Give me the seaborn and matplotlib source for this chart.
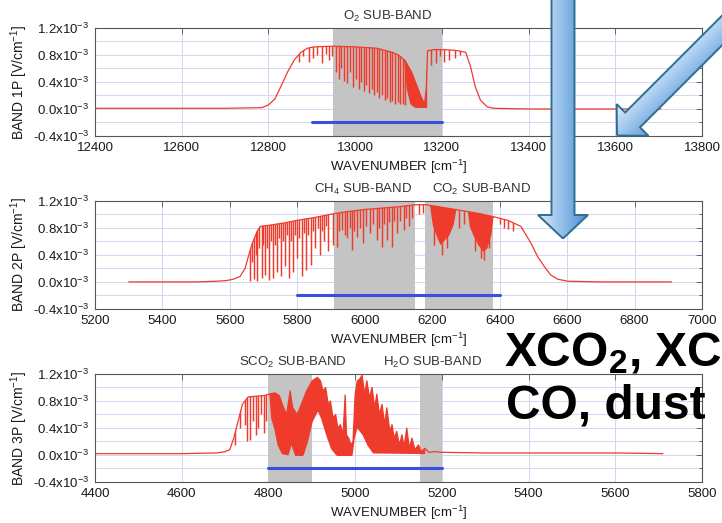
import numpy as np
import matplotlib
matplotlib.use("Agg")
import matplotlib.pyplot as plt
import seaborn as sns
from matplotlib.patches import Polygon
from matplotlib.ticker import MultipleLocator, FuncFormatter
from matplotlib.colors import LinearSegmentedColormap

# signal values are in units of 1e-3 V/cm^-1

# band 1P (O2 A-band)
b1_wn = [12400, 12500, 12600, 12700, 12785, 12800, 12815, 12830, 12845, 12860,
         12875, 12890, 12905, 12950, 13000, 13050, 13085, 13100, 13115, 13130,
         13142, 13152, 13160, 13164, 13167, 13180, 13200, 13230, 13255, 13266,
         13277, 13289, 13305, 13320, 13400, 13500, 13600, 13705]
b1_sig = [0.01, 0.01, 0.01, 0.01, 0.02, 0.06, 0.15, 0.35, 0.56, 0.73,
          0.84, 0.9, 0.92, 0.93, 0.92, 0.9, 0.84, 0.8, 0.72, 0.55,
          0.35, 0.18, 0.08, 0.3, 0.86, 0.88, 0.88, 0.87, 0.84, 0.63,
          0.33, 0.13, 0.03, 0.01, 0.0, 0.0, 0.0, 0.0]
b1_line_wn = [12870, 12880, 12893, 12903, 12912, 12924, 12932, 12939, 12946, 12955,
              12962, 12968, 12975, 12982, 12988, 12995, 13001, 13008, 13014, 13020,
              13026, 13032, 13038, 13044, 13050, 13056, 13062, 13068, 13074, 13080,
              13086, 13092, 13098, 13104, 13110, 13116, 13175, 13186, 13195, 13204,
              13216, 13230, 13242]
b1_line_lo = [0.7, 0.78, 0.7, 0.76, 0.8, 0.68, 0.82, 0.72, 0.78, 0.55,
              0.45, 0.6, 0.42, 0.38, 0.55, 0.33, 0.45, 0.3, 0.4, 0.27,
              0.35, 0.24, 0.3, 0.2, 0.25, 0.17, 0.2, 0.13, 0.16, 0.1,
              0.12, 0.08, 0.1, 0.07, 0.08, 0.06, 0.65, 0.68, 0.78, 0.7,
              0.72, 0.75, 0.8]
b1_dense_wn = [13108, 13118, 13126, 13135, 13150, 13165]
b1_dense_lo = [1.0, 0.3, 0.08, 0.03, 0.03, 0.03]
b1_shades = [(12950, 13200)]
b1_window = [12900, 13200]
b1_labels = [("O$_2$ SUB-BAND", 13075)]

# band 2P (CH4 / CO2)
b2_wn = [5300, 5400, 5500, 5560, 5590, 5610, 5630, 5645, 5655, 5665,
         5680, 5690, 5720, 5760, 5800, 5850, 5900, 5950, 6000, 6050,
         6100, 6150, 6180, 6220, 6280, 6340, 6384, 6424, 6463, 6493,
         6513, 6532, 6552, 6572, 6602, 6700, 6800, 6910]
b2_sig = [0.0, 0.0, 0.0, 0.01, 0.02, 0.04, 0.08, 0.2, 0.38, 0.55,
          0.74, 0.82, 0.84, 0.87, 0.91, 0.95, 1.0, 1.04, 1.07, 1.09,
          1.11, 1.14, 1.14, 1.11, 1.06, 1.01, 0.96, 0.91, 0.82, 0.57,
          0.37, 0.23, 0.1, 0.04, 0.01, 0.0, 0.0, 0.0]
b2_line_wn = [5660, 5665, 5671, 5676, 5681, 5687, 5694, 5699, 5704, 5710,
              5717, 5722, 5727, 5733, 5739, 5745, 5751, 5757, 5763, 5769,
              5776, 5781, 5786, 5792, 5798, 5805, 5813, 5819, 5826, 5833,
              5840, 5846, 5853, 5860, 5867, 5873, 5879, 5886, 5892, 5907,
              5917, 5925, 5932, 5940, 5947, 5955, 5962, 5969, 5976, 5985,
              5996, 6005, 6016, 6025, 6036, 6043, 6050, 6058, 6065, 6072,
              6080, 6088, 6095, 6105, 6115, 6122, 6130, 6140, 6160, 6172,
              6205, 6228, 6245, 6280, 6295, 6328, 6345, 6355, 6368, 6400,
              6412, 6425, 6440]
b2_line_lo = [0.02, 0.3, 0.05, 0.4, 0.02, 0.5, 0.06, 0.55, 0.1, 0.5,
              0.03, 0.6, 0.06, 0.55, 0.15, 0.65, 0.08, 0.6, 0.23, 0.7,
              0.06, 0.6, 0.15, 0.7, 0.35, 0.65, 0.08, 0.72, 0.18, 0.7,
              0.25, 0.75, 0.5, 0.8, 0.4, 0.75, 0.6, 0.82, 0.45, 0.55,
              0.52, 0.75, 0.77, 0.7, 0.65, 0.8, 0.47, 0.75, 0.67, 0.8,
              0.57, 0.82, 0.72, 0.85, 0.62, 0.8, 0.52, 0.85, 0.62, 0.88,
              0.52, 0.9, 0.72, 0.9, 0.77, 0.95, 0.82, 0.95, 1.0, 1.02,
              0.55, 0.4, 0.5, 0.8, 0.85, 0.45, 0.35, 0.33, 0.5, 0.85,
              0.8, 0.78, 0.75]
b2_dense_wn = [6190, 6200, 6212, 6223, 6236, 6250, 6262, 6275, 6300, 6310,
               6322, 6335, 6350, 6362, 6374, 6386]
b2_dense_lo = [1.2, 0.85, 0.68, 0.55, 0.62, 0.7, 0.85, 1.2, 1.2, 0.82,
               0.68, 0.55, 0.45, 0.5, 0.7, 1.2]
b2_shades = [(5910, 6150), (6180, 6380)]
b2_window = [5800, 6400]
b2_labels = [("CH$_4$ SUB-BAND", 5995), ("CO$_2$ SUB-BAND", 6345)]

# band 3P (strong CO2 / H2O)
b3_wn = [4400, 4500, 4600, 4680, 4700, 4711, 4720, 4730, 4740, 4753,
         4770, 4790, 4800, 4815, 4825, 4835, 4842, 4850, 4856, 4866,
         4876, 4888, 4901, 4913, 4920, 4926, 4932, 4938, 4943, 4949,
         4955, 4960, 4966, 4972, 4977, 4980, 4985, 4990, 4995, 5000,
         5005, 5010, 5016, 5022, 5027, 5033, 5039, 5045, 5050, 5056,
         5062, 5068, 5073, 5080, 5085, 5090, 5096, 5102, 5108, 5113,
         5119, 5125, 5131, 5138, 5146, 5152, 5161, 5170, 5184, 5200,
         5300, 5400, 5500, 5600, 5710]
b3_sig = [0.02, 0.02, 0.02, 0.03, 0.05, 0.08, 0.25, 0.5, 0.75, 0.86,
          0.87, 0.88, 0.9, 0.92, 0.88, 0.7, 0.6, 0.95, 0.7, 0.6,
          0.75, 0.95, 1.1, 1.15, 1.1, 0.95, 1.0, 0.75, 0.8, 0.55,
          0.6, 0.4, 0.45, 0.3, 0.89, 0.3, 0.25, 0.15, 0.2, 0.9,
          1.1, 1.12, 1.18, 0.9, 1.1, 0.85, 1.0, 0.7, 0.9, 0.6,
          0.75, 0.45, 0.7, 0.35, 0.45, 0.25, 0.35, 0.15, 0.3, 0.12,
          0.4, 0.1, 0.25, 0.08, 0.15, 0.05, 0.1, 0.04, 0.05, 0.04,
          0.03, 0.03, 0.03, 0.03, 0.02]
b3_line_wn = [4722, 4735, 4745, 4750, 4758, 4765, 4771, 4777, 4783, 4789, 4795]
b3_line_lo = [0.15, 0.4, 0.45, 0.2, 0.22, 0.5, 0.3, 0.4, 0.6, 0.33, 0.5]
b3_dense_wn = [4798, 4805, 4812, 4820, 4830, 4845, 4852, 4860, 4880, 4890,
               4901, 4913, 4920, 4932, 4943, 4955, 4993, 4998, 5004, 5016,
               5027, 5040, 5160, 5175]
b3_dense_lo = [1.2, 0.55, 0.4, 0.15, 0.02, 0.0, 0.15, 0.0, 0.0, 0.2,
               0.5, 0.65, 0.55, 0.3, 0.1, 0.0, 0.0, 0.25, 0.4, 0.3,
               0.15, 0.03, 0.02, 1.2]
b3_shades = [(4800, 4900), (5150, 5200)]
b3_window = [4800, 5200]
b3_labels = [("SCO$_2$ SUB-BAND", 4856), ("H$_2$O SUB-BAND", 5179)]

RED = "#ee3b2c"
BLUE = "#3c4ee0"
GREY = "#c4c4c4"
GRID = "#d3d6f3"

sns.set_theme(style="white")
plt.rcParams["font.family"] = ["Liberation Sans", "DejaVu Sans"]
plt.rcParams["mathtext.fontset"] = "custom"
plt.rcParams["mathtext.rm"] = "Liberation Sans"
plt.rcParams["mathtext.bf"] = "Liberation Sans:bold"
plt.rcParams["mathtext.default"] = "regular"


def ytick(v, pos):
    v = 0.0 if abs(v) < 1e-9 else v
    return f"{v:.1f}x10$^{{-3}}$"


def draw_band(ax, wn, sig, line_wn, line_lo, dense_wn, dense_lo,
              shades, window, labels, xlim, ylabel):
    for lo, hi in shades:
        ax.axvspan(lo, hi, color=GREY, lw=0, zorder=1)

    # absorption lines / dense line clusters live under the measured envelope
    clip = ax.fill_between(wn, -0.4, sig, facecolor="none", edgecolor="none")
    clip_path = clip.get_paths()[0]
    dense = ax.fill_between(dense_wn, dense_lo, 1.3, color=RED, lw=0, zorder=2)
    dense.set_clip_path(clip_path, ax.transData)
    lines = ax.vlines(line_wn, line_lo, 1.3, colors=RED, lw=1.05, zorder=2)
    lines.set_clip_path(clip_path, ax.transData)

    sns.lineplot(x=wn, y=sig, ax=ax, color=RED, lw=0.9,
                 estimator=None, sort=False, zorder=3)
    sns.lineplot(x=window, y=[-0.2, -0.2], ax=ax, color=BLUE, lw=2.2,
                 estimator=None, zorder=4)

    for text, x in labels:
        ax.text(x, 1.035, text, transform=ax.get_xaxis_transform(),
                ha="center", va="bottom", fontsize=9.5, color="#333333")

    ax.set_xlim(*xlim)
    ax.set_ylim(-0.4, 1.2)
    ax.xaxis.set_major_locator(MultipleLocator(200))
    ax.yaxis.set_major_locator(MultipleLocator(0.4))
    ax.yaxis.set_minor_locator(MultipleLocator(0.2))
    ax.yaxis.set_major_formatter(FuncFormatter(ytick))
    ax.set_axisbelow(True)
    ax.grid(True, axis="x", which="major", color=GRID, lw=0.7)
    ax.grid(True, axis="y", which="both", color=GRID, lw=0.7)
    ax.tick_params(which="both", direction="in", top=True, right=True,
                   color="#555555", width=0.6, labelsize=9.5,
                   labelcolor="#1a1a1a", pad=4)
    ax.tick_params(which="major", length=4)
    ax.tick_params(which="minor", length=2.5)
    for s in ax.spines.values():
        s.set_color("#555555")
        s.set_linewidth(0.8)
    ax.set_xlabel("WAVENUMBER [cm$^{-1}$]", fontsize=9.5, labelpad=3,
                  color="#1a1a1a")
    ax.set_ylabel(ylabel, fontsize=10, color="#1a1a1a", labelpad=2)


fig = plt.figure(figsize=(7.22, 5.23), dpi=100)
ax1 = fig.add_axes([0.1316, 0.7400, 0.8407, 0.2065])
ax2 = fig.add_axes([0.1316, 0.4092, 0.8407, 0.2071])
ax3 = fig.add_axes([0.1316, 0.0784, 0.8407, 0.2065])

draw_band(ax1, b1_wn, b1_sig, b1_line_wn, b1_line_lo, b1_dense_wn, b1_dense_lo,
          b1_shades, b1_window, b1_labels, (12400, 13800), "BAND 1P [V/cm$^{-1}$]")
draw_band(ax2, b2_wn, b2_sig, b2_line_wn, b2_line_lo, b2_dense_wn, b2_dense_lo,
          b2_shades, b2_window, b2_labels, (5200, 7000), "BAND 2P [V/cm$^{-1}$]")
draw_band(ax3, b3_wn, b3_sig, b3_line_wn, b3_line_lo, b3_dense_wn, b3_dense_lo,
          b3_shades, b3_window, b3_labels, (4400, 5800), "BAND 3P [V/cm$^{-1}$]")

# slide overlay: block arrows and caption, in pixel coordinates
ov = fig.add_axes([0, 0, 1, 1], zorder=10)
ov.set_xlim(0, 722)
ov.set_ylim(523, 0)
ov.axis("off")
ov.patch.set_alpha(0)

arrow_cmap = LinearSegmentedColormap.from_list("arr", ["#d4e6f8", "#8dbbe8", "#4f8ccc"])
yy, xx = np.mgrid[0:523, 0:722] + 0.5


def block_arrow(tip, direction, head_len, head_w, shaft_w, length, grad):
    d = np.asarray(direction, float)
    d /= np.hypot(*d)
    n = np.array([-d[1], d[0]])
    tip = np.asarray(tip, float)
    base = tip + d * head_len
    tail = tip + d * length
    pts = [tip, base + n * head_w / 2, base + n * shaft_w / 2,
           tail + n * shaft_w / 2, tail - n * shaft_w / 2,
           base - n * shaft_w / 2, base - n * head_w / 2]
    poly = Polygon(pts, closed=True, facecolor="none", edgecolor="#2f6e8e",
                   lw=1.4, zorder=3)
    ov.add_patch(poly)
    im = ov.imshow(grad, cmap=arrow_cmap, vmin=0, vmax=1, extent=(0, 722, 523, 0),
                   aspect="auto", zorder=2, interpolation="bilinear")
    im.set_clip_path(poly)


g_vert = np.clip((xx - 540) / 48, 0, 1)
block_arrow((563, 238.5), (0, -1), 23.5, 50, 23, 260, g_vert)

g_diag = np.clip(((xx - 617) + (yy - 135)) / 70 + 0.35, 0, 1)
block_arrow((617, 135.5), (1, -1), 22, 45, 21, 200, g_diag)

ov.text(504, 366, r"XCO$_\mathbf{2}$, XC", fontsize=34.5, fontweight="bold",
        color="black", ha="left", va="baseline", zorder=5)
ov.text(506, 419, "CO, dust", fontsize=34.5, fontweight="bold",
        color="black", ha="left", va="baseline", zorder=5)

fig.savefig("out.png", dpi=100)
